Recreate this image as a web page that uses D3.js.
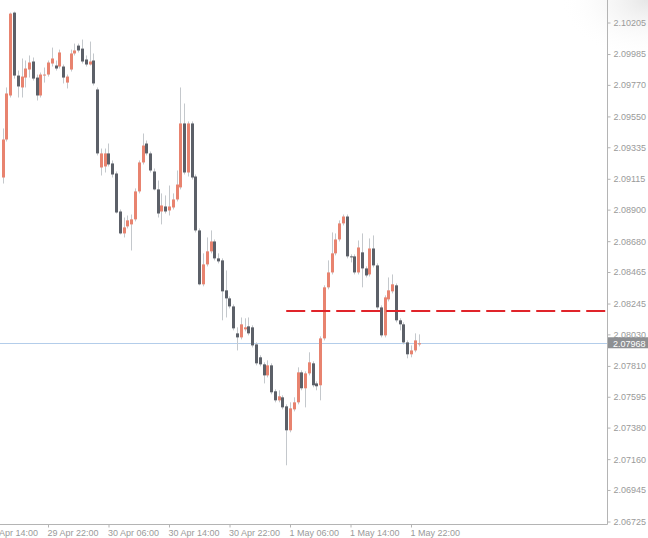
<!DOCTYPE html>
<html><head><meta charset="utf-8">
<script src="https://cdn.jsdelivr.net/npm/d3@7"></script>
<style>body{margin:0;background:#fff;} svg{display:block}</style>
</head><body><svg id="c" width="648" height="538"></svg>
<script>
// 30-minute candles, first bar 29 Apr 16:00
const firstBar = new Date(2019, 3, 29, 16, 0);
const barMinutes = 30;

const open = [2.09124,2.09389,2.09696,2.10274,2.09835,2.09752,2.09821,2.09877,2.09933,2.09821,
2.09696,2.09835,2.09842,2.09919,2.09905,2.09898,2.09898,2.09786,2.09877,2.09989,
2.10044,2.10023,2.09947,2.09912,2.09940,2.09738,2.09194,2.09201,2.09292,2.09222,
2.09152,2.08887,2.08734,2.08783,2.08797,2.08832,2.09027,2.09229,2.09361,2.09292,
2.09166,2.09041,2.08887,2.08922,2.08894,2.08915,2.08971,2.09055,2.09501,2.09159,
2.09501,2.09131,2.08755,2.08379,2.08518,2.08609,2.08678,2.08560,2.08546,2.08337,
2.08281,2.08225,2.08037,2.08009,2.08065,2.08086,2.08079,2.07960,2.07870,2.07821,
2.07744,2.07814,2.07633,2.07570,2.07591,2.07528,2.07361,2.07507,2.07556,2.07765,
2.07654,2.07758,2.07828,2.07688,2.07675,2.08002,2.08358,2.08462,2.08595,2.08692,
2.08804,2.08852,2.08574,2.08574,2.08462,2.08602,2.08490,2.08448,2.08629,2.08511,
2.08218,2.08023,2.08274,2.08330,2.08372,2.08128,2.08100,2.07974,2.07891,2.07918,
2.07960];
const high = [2.09466,2.09752,2.10274,2.10281,2.09870,2.09954,2.09940,2.09975,2.09961,2.09842,
2.09856,2.09891,2.09940,2.10030,2.09940,2.10016,2.09912,2.09842,2.10016,2.10058,
2.10058,2.10086,2.09975,2.10072,2.09989,2.09752,2.09326,2.09326,2.09361,2.09243,
2.09166,2.08901,2.08845,2.08859,2.08866,2.09048,2.09243,2.09431,2.09382,2.09305,
2.09187,2.09103,2.09013,2.08999,2.09068,2.09013,2.09173,2.09752,2.09640,2.09515,
2.09515,2.09145,2.08769,2.08595,2.08706,2.08755,2.08692,2.08595,2.08560,2.08476,
2.08295,2.08239,2.08079,2.08148,2.08142,2.08148,2.08093,2.07974,2.07884,2.07835,
2.07849,2.07828,2.07647,2.07640,2.07605,2.07542,2.07556,2.07591,2.07800,2.07779,
2.07772,2.07905,2.07842,2.07702,2.08016,2.08372,2.08546,2.08741,2.08734,2.08825,
2.08866,2.08866,2.08588,2.08588,2.08685,2.08734,2.08504,2.08699,2.08720,2.08525,
2.08232,2.08302,2.08427,2.08448,2.08385,2.08142,2.08114,2.07988,2.07953,2.08037,
2.08030];
const low = [2.09082,2.09375,2.09682,2.09814,2.09682,2.09682,2.09752,2.09821,2.09800,2.09661,
2.09682,2.09786,2.09828,2.09898,2.09870,2.09884,2.09780,2.09745,2.09863,2.09975,
2.09996,2.09919,2.09898,2.09905,2.09766,2.09278,2.09138,2.09159,2.09201,2.09124,
2.08873,2.08727,2.08706,2.08769,2.08615,2.08818,2.09013,2.09215,2.09278,2.09159,
2.09034,2.08845,2.08797,2.08873,2.08859,2.08901,2.08957,2.09041,2.09145,2.09131,
2.09110,2.08741,2.08372,2.08365,2.08504,2.08595,2.08546,2.08525,2.08128,2.08148,
2.08211,2.08058,2.07918,2.07995,2.08051,2.08023,2.07939,2.07814,2.07807,2.07688,
2.07730,2.07612,2.07556,2.07556,2.07507,2.07117,2.07347,2.07493,2.07542,2.07640,
2.07521,2.07744,2.07661,2.07640,2.07570,2.07988,2.08344,2.08448,2.08581,2.08678,
2.08790,2.08560,2.08532,2.08448,2.08448,2.08358,2.08427,2.08434,2.08497,2.08204,
2.08009,2.08009,2.08260,2.08316,2.08114,2.08058,2.07960,2.07863,2.07870,2.07905,
2.07946];
const close = [2.09389,2.09710,2.10267,2.09835,2.09759,2.09828,2.09884,2.09926,2.09814,2.09696,
2.09842,2.09842,2.09926,2.09954,2.09884,2.09996,2.09821,2.09828,2.09989,2.10010,
2.10010,2.09933,2.09912,2.09933,2.09780,2.09292,2.09292,2.09292,2.09215,2.09145,
2.08880,2.08734,2.08776,2.08825,2.08832,2.09027,2.09229,2.09347,2.09292,2.09173,
2.09041,2.08873,2.08929,2.08887,2.08922,2.08971,2.09075,2.09501,2.09159,2.09501,
2.09124,2.08755,2.08379,2.08518,2.08609,2.08678,2.08560,2.08539,2.08330,2.08281,
2.08225,2.08072,2.08009,2.08100,2.08079,2.08037,2.07953,2.07828,2.07821,2.07744,
2.07814,2.07626,2.07570,2.07598,2.07521,2.07361,2.07514,2.07556,2.07765,2.07654,
2.07758,2.07835,2.07675,2.07668,2.08002,2.08358,2.08462,2.08595,2.08692,2.08804,
2.08852,2.08574,2.08567,2.08462,2.08636,2.08490,2.08441,2.08629,2.08511,2.08218,
2.08023,2.08288,2.08337,2.08379,2.08128,2.08100,2.07974,2.07891,2.07918,2.07988,
2.07968];

const yTickValues = [2.10205,2.09985,2.09770,2.09550,2.09335,2.09115,2.08900,2.08680,2.08465,
  2.08245,2.08030,2.07810,2.07595,2.07380,2.07160,2.06945,2.06725];
const xTickLabels = ["29 Apr 14:00","29 Apr 22:00","30 Apr 06:00","30 Apr 14:00",
  "30 Apr 22:00","1 May 06:00","1 May 14:00","1 May 22:00"];
const xTickTimes = [new Date(2019,3,29,14),new Date(2019,3,29,22),new Date(2019,3,30,6),
  new Date(2019,3,30,14),new Date(2019,3,30,22),new Date(2019,4,1,6),new Date(2019,4,1,14),
  new Date(2019,4,1,22)];
const currentPrice = 2.07968;
const levelPrice = 2.08190;
const levelStart = new Date(2019,4,1,5,30);

const bars = open.map((o,i)=>({
  t: new Date(firstBar.getTime() + i*barMinutes*60000),
  o, h: high[i], l: low[i], c: close[i]
}));

const W = 648, H = 538, plotR = 607, plotB = 524;
const svg = d3.select("#c");

// subtle grey gradient at top-right
const defs = svg.append("defs");
const rg = defs.append("radialGradient").attr("id","tr").attr("cx","1").attr("cy","0").attr("r","1");
rg.append("stop").attr("offset","0").attr("stop-color","#e6e6e6");
rg.append("stop").attr("offset","1").attr("stop-color","#ffffff").attr("stop-opacity",0);
svg.append("rect").attr("x",560).attr("y",0).attr("width",88).attr("height",60).attr("fill","url(#tr)");

defs.append("clipPath").attr("id","plot").append("rect")
  .attr("x",0).attr("y",0).attr("width",plotR).attr("height",plotB);

const x = d3.scaleTime()
  .domain([xTickTimes[0], xTickTimes[xTickTimes.length-1]])
  .range([-12.5, 411]);
const y = d3.scaleLinear().domain([2.06725, 2.10205]).range([521.5, 22.5]);

const g = svg.append("g").attr("clip-path","url(#plot)");

// current price line
g.append("line").attr("x1",0).attr("x2",plotR)
  .attr("y1",Math.round(y(currentPrice))+0.5).attr("y2",Math.round(y(currentPrice))+0.5)
  .attr("stroke","#b3cdea").attr("stroke-width",1);

// wicks
g.selectAll("line.wick").data(bars).join("line").attr("class","wick")
  .attr("x1",d=>Math.round(x(d.t))+0.5).attr("x2",d=>Math.round(x(d.t))+0.5)
  .attr("y1",d=>y(d.h)).attr("y2",d=>y(d.l))
  .attr("stroke","#c4c8cc").attr("stroke-width",1);

// bodies
g.selectAll("rect.body").data(bars).join("rect").attr("class","body")
  .attr("x",d=>Math.round(x(d.t))-1)
  .attr("width",3)
  .attr("y",d=>y(Math.max(d.o,d.c)))
  .attr("height",d=>Math.max(1, Math.abs(y(d.o)-y(d.c))))
  .attr("fill",d=>d.c>=d.o ? "#e8836f" : "#5c6068");

// level line (dashed red)
g.append("line").attr("x1",x(levelStart)).attr("x2",plotR)
  .attr("y1",Math.round(y(levelPrice))).attr("y2",Math.round(y(levelPrice)))
  .attr("stroke","#e0242a").attr("stroke-width",2).attr("stroke-dasharray","19,6");

// axis frame lines
svg.append("line").attr("x1",plotR+0.5).attr("x2",plotR+0.5).attr("y1",0).attr("y2",plotB+0.5)
  .attr("stroke","#b4b4b4");
svg.append("line").attr("x1",0).attr("x2",plotR+0.5).attr("y1",plotB+0.5).attr("y2",plotB+0.5)
  .attr("stroke","#b4b4b4");

const font = "'Liberation Sans', Arial, sans-serif";
const yAxis = svg.append("g").attr("transform",`translate(${plotR+0.5},0)`)
  .call(d3.axisRight(y).tickValues(yTickValues).tickSize(3).tickPadding(3)
    .tickFormat(d3.format(".5f")));
yAxis.select(".domain").remove();
yAxis.selectAll("line").attr("stroke","#b4b4b4");
yAxis.selectAll("text").attr("fill","#9a9a9a").style("font-family",font).style("font-size","9px");

const xAxis = svg.append("g").attr("transform",`translate(0,${plotB+0.5})`)
  .call(d3.axisBottom(x).tickValues(xTickTimes).tickSize(3).tickPadding(2)
    .tickFormat((d,i)=>xTickLabels[i]));
xAxis.select(".domain").remove();
xAxis.selectAll("line").attr("stroke","#b4b4b4");
xAxis.selectAll("text").attr("fill","#9a9a9a").attr("text-anchor","start").attr("x",-1)
  .style("font-family",font).style("font-size","9px");

// current price tag
const cy = y(currentPrice);
svg.append("rect").attr("x",plotR+1).attr("y",cy-6).attr("width",W-plotR-1).attr("height",11)
  .attr("fill","#8e9093");
svg.append("text").attr("x",plotR+6).attr("y",cy+3.5).text(d3.format(".5f")(currentPrice))
  .attr("fill","#ffffff").style("font-family",font).style("font-size","9px");
</script></body></html>
